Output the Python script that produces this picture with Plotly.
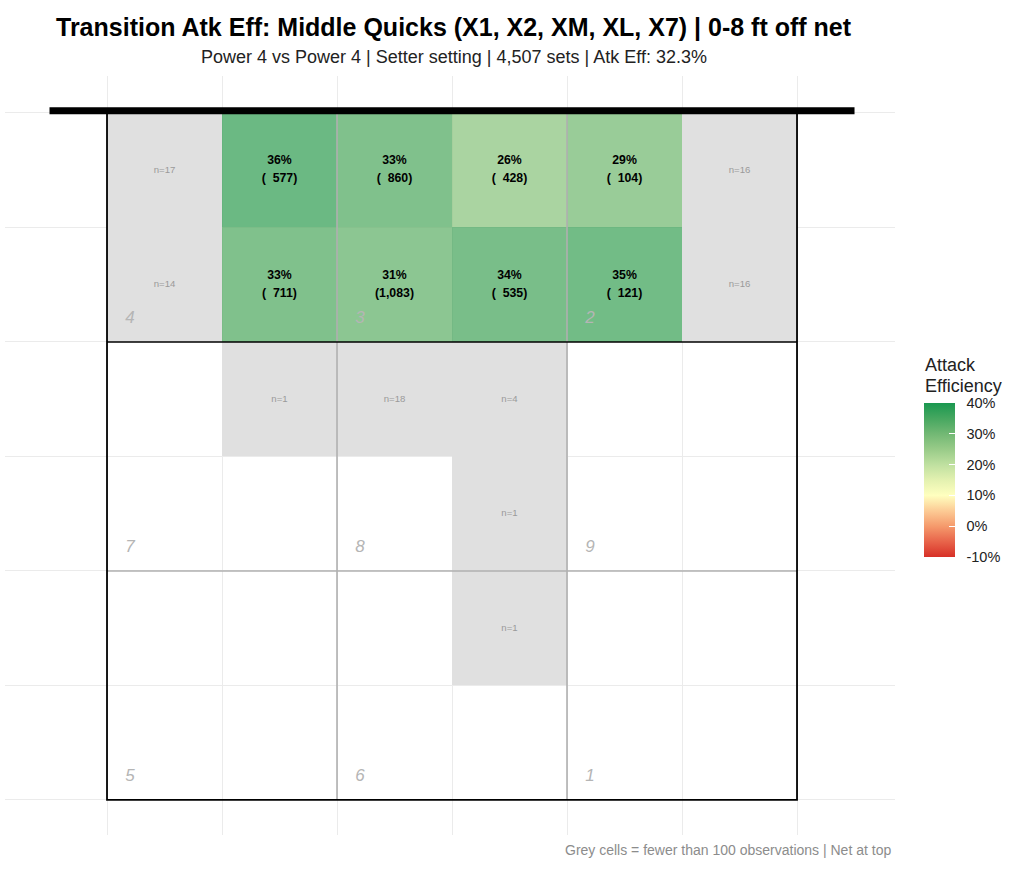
import plotly.graph_objects as go
import numpy as np

# ---------------- data ----------------
title_text = "Transition Atk Eff: Middle Quicks (X1, X2, XM, XL, X7) | 0-8 ft off net"
subtitle_text = "Power 4 vs Power 4 | Setter setting | 4,507 sets | Atk Eff: 32.3%"
caption_text = "Grey cells = fewer than 100 observations | Net at top"
legend_title_lines = ["Attack", "Efficiency"]

# rows listed from the net (top) to the end line (bottom), 6 columns left->right
eff_pct = [
    [None, 36, 33, 26, 29, None],
    [None, 33, 31, 34, 35, None],
    [None, None, None, None, None, None],
    [None, None, None, None, None, None],
    [None, None, None, None, None, None],
    [None, None, None, None, None, None],
]
counts = [
    [17, 577, 860, 428, 104, 16],
    [14, 711, 1083, 535, 121, 16],
    [0, 1, 18, 4, 0, 0],
    [0, 0, 0, 1, 0, 0],
    [0, 0, 0, 1, 0, 0],
    [0, 0, 0, 0, 0, 0],
]
min_obs = 100
zone_labels = [["4", "3", "2"], ["7", "8", "9"], ["5", "6", "1"]]
cbar_ticks = [-10, 0, 10, 20, 30, 40]
cbar_labels = ["-10%", "0%", "10%", "20%", "30%", "40%"]

# ---------------- build ----------------
n_rows = len(counts)
n_cols = len(counts[0])
xc = [c + 0.5 for c in range(n_cols)]
yc = [n_rows - 0.5 - r for r in range(n_rows)]

z_col = np.full((n_rows, n_cols), np.nan)
z_grey = np.full((n_rows, n_cols), np.nan)
for r in range(n_rows):
    for c in range(n_cols):
        n = counts[r][c]
        if n >= min_obs and eff_pct[r][c] is not None:
            z_col[r, c] = eff_pct[r][c]
        elif n > 0:
            z_grey[r, c] = 1

font_family = "Liberation Sans, Arial, sans-serif"

colorscale = [
    [0.00, "#d73027"],
    [0.10, "#e8644a"],
    [0.20, "#f59a6c"],
    [0.30, "#fccb95"],
    [0.40, "#ffffbf"],
    [0.50, "#e3f1b0"],
    [0.60, "#bfe0a0"],
    [0.70, "#98cb88"],
    [0.80, "#72b874"],
    [0.90, "#46a760"],
    [1.00, "#1a9850"],
]

fig = go.Figure()

fig.add_trace(go.Heatmap(
    x=xc, y=yc, z=z_grey.tolist(),
    colorscale=[[0, "#e0e0e0"], [1, "#e0e0e0"]],
    showscale=False, hoverinfo="skip", zmin=0, zmax=1,
))

fig.add_trace(go.Heatmap(
    x=xc, y=yc, z=z_col.tolist(),
    colorscale=colorscale, zmin=-10, zmax=40, opacity=0.76,
    hoverinfo="skip",
    colorbar=dict(
        tickvals=cbar_ticks,
        ticktext=["\u00a0\u00a0" + t for t in cbar_labels],
        tickfont=dict(size=14.5, color="#222", family=font_family),
        ticks="inside", tickcolor="white", ticklen=6,
        outlinewidth=0, thickness=31, xpad=0, ypad=0,
        lenmode="pixels", len=154,
        x=1.0326, xanchor="left", xref="paper",
        y=0.4677, yanchor="middle", yref="paper",
    ),
))

# cell texts
pct_x, pct_y, pct_t = [], [], []
cnt_x, cnt_y, cnt_t = [], [], []
n_x, n_y, n_t = [], [], []
for r in range(n_rows):
    for c in range(n_cols):
        n = counts[r][c]
        if n >= min_obs and eff_pct[r][c] is not None:
            pct_x.append(xc[c]); pct_y.append(yc[r] + 0.08)
            pct_t.append(f"<b>{eff_pct[r][c]}%</b>")
            s = f"{n:,}".rjust(5).replace(" ", "\u00a0")
            cnt_x.append(xc[c]); cnt_y.append(yc[r] - 0.08)
            cnt_t.append(f"<b>({s})</b>")
        elif n > 0:
            n_x.append(xc[c]); n_y.append(yc[r]); n_t.append(f"n={n}")

fig.add_trace(go.Scatter(x=pct_x, y=pct_y, text=pct_t, mode="text",
                         textfont=dict(size=12.3, color="black", family=font_family),
                         hoverinfo="skip", showlegend=False))
fig.add_trace(go.Scatter(x=cnt_x, y=cnt_y, text=cnt_t, mode="text",
                         textfont=dict(size=12.3, color="black", family=font_family),
                         hoverinfo="skip", showlegend=False))
fig.add_trace(go.Scatter(x=n_x, y=n_y, text=n_t, mode="text",
                         textfont=dict(size=9.6, color="#9a9a9a", family=font_family),
                         hoverinfo="skip", showlegend=False))

# zone numbers
zx, zy, zt = [], [], []
zh = n_rows / len(zone_labels)
zw = n_cols / len(zone_labels[0])
for zr, row in enumerate(zone_labels):
    for zc, lab in enumerate(row):
        zx.append(zc * zw + 0.2)
        zy.append(n_rows - (zr + 1) * zh + 0.2)
        zt.append(f"<i>{lab}</i>")
fig.add_trace(go.Scatter(x=zx, y=zy, text=zt, mode="text",
                         textfont=dict(size=17, color="#b5b5b5", family=font_family),
                         hoverinfo="skip", showlegend=False))

# court lines
shapes = []
grey = "#b0b0b0"
for xv in [zw, 2 * zw]:
    shapes.append(dict(type="line", x0=xv, x1=xv, y0=0, y1=n_rows,
                       line=dict(color=grey, width=1.6), layer="above"))
shapes.append(dict(type="line", x0=0, x1=n_cols, y0=zh, y1=zh,
                   line=dict(color=grey, width=1.6), layer="above"))
shapes.append(dict(type="line", x0=0, x1=n_cols, y0=2 * zh, y1=2 * zh,
                   line=dict(color="black", width=1.6), layer="above"))
shapes.append(dict(type="rect", x0=0, x1=n_cols, y0=0, y1=n_rows,
                   line=dict(color="black", width=1.8), fillcolor="rgba(0,0,0,0)",
                   layer="above"))
shapes.append(dict(type="line", x0=-0.5, x1=n_cols + 0.5, y0=n_rows + 0.02,
                   y1=n_rows + 0.02, line=dict(color="black", width=7), layer="above"))

annotations = [
    dict(text=f"<b>{title_text}</b>", xref="paper", yref="paper", x=0.504, y=1.0645,
         xanchor="center", yanchor="middle", showarrow=False,
         font=dict(size=25, color="black", family=font_family)),
    dict(text=subtitle_text, xref="paper", yref="paper", x=0.504, y=1.025,
         xanchor="center", yanchor="middle", showarrow=False,
         font=dict(size=18, color="#222", family=font_family)),
    dict(text=caption_text, xref="paper", yref="paper", x=0.998, y=-0.0198,
         xanchor="right", yanchor="middle", showarrow=False,
         font=dict(size=14, color="#8c8c8c", family=font_family)),
]
for i, line in enumerate(legend_title_lines):
    annotations.append(dict(text=line, xref="paper", yref="paper",
                            x=1.0315, y=0.6192 - i * 0.0277,
                            xanchor="left", yanchor="middle", showarrow=False,
                            font=dict(size=18, color="#222", family=font_family)))

grid_vals = list(range(0, n_cols + 1))
fig.update_layout(
    width=1024, height=875,
    margin=dict(l=5, r=129, t=76, b=40, autoexpand=False),
    paper_bgcolor="white", plot_bgcolor="white",
    showlegend=False,
    shapes=shapes, annotations=annotations,
    xaxis=dict(range=[-0.887, 6.852], tickvals=grid_vals, showticklabels=False,
               showgrid=True, gridcolor="#ebebeb", gridwidth=1, zeroline=False,
               showline=False, ticks="", fixedrange=True),
    yaxis=dict(range=[-0.306, 6.323], tickvals=list(range(0, n_rows + 1)),
               showticklabels=False, showgrid=True, gridcolor="#ebebeb", gridwidth=1,
               zeroline=False, showline=False, ticks="", fixedrange=True),
    font=dict(family=font_family),
)

fig.write_html("out.html", config={"displayModeBar": False},
               post_script="document.body.style.margin='0px';")
